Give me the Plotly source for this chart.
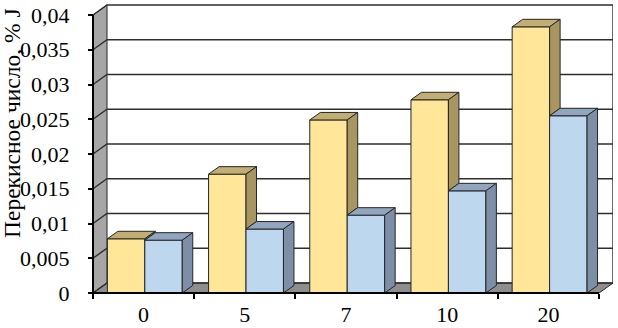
import plotly.graph_objects as go

# ---------------- data ----------------
categories = ["0", "5", "7", "10", "20"]
series_yellow = [0.0078, 0.0171, 0.0249, 0.0278, 0.0383]
series_blue = [0.0076, 0.0092, 0.0112, 0.0147, 0.0255]
y_tick_values = [0, 0.005, 0.01, 0.015, 0.02, 0.025, 0.03, 0.035, 0.04]
y_tick_labels = ["0", "0,005", "0,01", "0,015", "0,02", "0,025", "0,03", "0,035", "0,04"]
y_title = "Перекисное число, % J"

# ---------------- layout constants ----------------
W, H = 618, 328
ML, MR, MT, MB = 90, 5, 4, 32
PW, PH = W - ML - MR, H - MT - MB
CAT_PX = 101.2                 # pixels per category on front plane
Y_PX = 278 / 0.04              # pixels per value unit
UX, UY = 1 / CAT_PX, 1 / Y_PX  # data units per pixel
PAD_L, PAD_B = 3, 3            # px of room left/below the front axes
x_lo = -0.5 - PAD_L * UX
x_hi = x_lo + PW * UX
y_lo = -PAD_B * UY
y_hi = y_lo + PH * UY
x_front_end = len(categories) - 0.5
y_top = y_tick_values[-1]

WALL_DX, WALL_DY = 14 * UX, 10 * UY     # depth of the chart box
BAR_DX, BAR_DY = 10.5 * UX, 7.5 * UY    # depth of each bar
BAR_W = 0.37
OFF_Y, OFF_B = -0.358, 0.012

FONT = "Liberation Serif, Times New Roman, serif"
C_Y_FRONT, C_Y_TOP, C_Y_SIDE = "#FFE699", "#C2AE72", "#A89660"
C_B_FRONT, C_B_TOP, C_B_SIDE = "#BDD7EE", "#91A5BE", "#7D8FA6"
EDGE = "#262626"

xs = list(range(len(categories)))

fig = go.Figure()
fig.add_trace(go.Bar(x=xs, y=series_yellow, width=BAR_W, offset=OFF_Y,
                     marker=dict(color=C_Y_FRONT, line=dict(color=EDGE, width=1)),
                     showlegend=False))
fig.add_trace(go.Bar(x=xs, y=series_blue, width=BAR_W, offset=OFF_B,
                     marker=dict(color=C_B_FRONT, line=dict(color=EDGE, width=1)),
                     showlegend=False))


def poly(pts):
    return "M " + " L ".join(f"{px},{py}" for px, py in pts) + " Z"


shapes = []
# left wall
x0 = -0.5
shapes.append(dict(type="path", layer="below",
                   path=poly([(x0, 0), (x0, y_top), (x0 + WALL_DX, y_top + WALL_DY), (x0 + WALL_DX, WALL_DY)]),
                   fillcolor="#A6A6A6", line=dict(color=EDGE, width=1)))
# floor
shapes.append(dict(type="path", layer="below",
                   path=poly([(x0, 0), (x_front_end, 0), (x_front_end + WALL_DX, WALL_DY), (x0 + WALL_DX, WALL_DY)]),
                   fillcolor="#8E8E8E", line=dict(color=EDGE, width=1)))
# gridlines on wall + back
for v in y_tick_values:
    shapes.append(dict(type="path", layer="below",
                       path=f"M {x0},{v} L {x0 + WALL_DX},{v + WALL_DY} L {x_front_end + WALL_DX},{v + WALL_DY}",
                       line=dict(color="#2E2E2E", width=1.4)))
# right edge of back wall
shapes.append(dict(type="line", layer="below", x0=x_front_end + WALL_DX, x1=x_front_end + WALL_DX,
                   y0=WALL_DY, y1=y_top + WALL_DY, line=dict(color="#2E2E2E", width=1.4)))

# 3D faces of bars
for i, x in enumerate(xs):
    ha, hb = series_yellow[i], series_blue[i]
    xl = x + OFF_Y
    xr = xl + BAR_W
    shapes.append(dict(type="path", layer="above",
                       path=poly([(xl, ha), (xr, ha), (xr + BAR_DX, ha + BAR_DY), (xl + BAR_DX, ha + BAR_DY)]),
                       fillcolor=C_Y_TOP, line=dict(color=EDGE, width=1)))
    lo = hb if abs((x + OFF_B) - xr) < 1e-6 else 0
    if ha > lo:
        shapes.append(dict(type="path", layer="above",
                           path=poly([(xr, lo), (xr, ha), (xr + BAR_DX, ha + BAR_DY), (xr + BAR_DX, lo + BAR_DY)]),
                           fillcolor=C_Y_SIDE, line=dict(color=EDGE, width=1)))
    bl = x + OFF_B
    br = bl + BAR_W
    shapes.append(dict(type="path", layer="above",
                       path=poly([(bl, hb), (br, hb), (br + BAR_DX, hb + BAR_DY), (bl + BAR_DX, hb + BAR_DY)]),
                       fillcolor=C_B_TOP, line=dict(color=EDGE, width=1)))
    shapes.append(dict(type="path", layer="above",
                       path=poly([(br, 0), (br, hb), (br + BAR_DX, hb + BAR_DY), (br + BAR_DX, BAR_DY)]),
                       fillcolor=C_B_SIDE, line=dict(color=EDGE, width=1)))

# front axis lines
shapes.append(dict(type="line", layer="above", x0=x0, x1=x0, y0=0, y1=y_top,
                   line=dict(color="black", width=2)))
shapes.append(dict(type="line", layer="above", x0=x0, x1=x_front_end, y0=0, y1=0,
                   line=dict(color="black", width=2)))

fig.update_layout(
    width=W, height=H,
    margin=dict(l=ML, r=MR, t=MT, b=MB, pad=0, autoexpand=False),
    paper_bgcolor="white", plot_bgcolor="white",
    barmode="overlay",
    font=dict(family=FONT, size=22, color="black"),
    shapes=shapes,
    xaxis=dict(range=[x_lo, x_hi], showgrid=False, zeroline=False, showline=False,
               automargin=False,
               tickvals=xs, ticktext=categories, ticks="",
               anchor="free", position=PAD_B / PH,
               ticklabelstandoff=6,
               minor=dict(tickvals=[k - 0.5 for k in range(len(categories) + 1)],
                          ticks="outside", ticklen=5, tickwidth=2, tickcolor="black", showgrid=False)),
    yaxis=dict(range=[y_lo, y_hi], showgrid=False, zeroline=False, showline=False,
               automargin=False,
               tickvals=y_tick_values, ticktext=y_tick_labels,
               ticks="outside", ticklen=5, tickwidth=2, tickcolor="black",
               anchor="free", position=PAD_L / PW,
               ticklabelstandoff=14),
    annotations=[dict(text=y_title, textangle=-90, showarrow=False,
                      xref="paper", yref="paper",
                      x=(12 - ML) / PW, y=(H - MB - 123) / PH,
                      xanchor="center", yanchor="middle",
                      font=dict(family=FONT, size=23.5, color="black"))],
)

fig.write_html("out.html", config={"displayModeBar": False},
               post_script="document.body.style.margin='0';document.body.style.overflow='hidden';")
